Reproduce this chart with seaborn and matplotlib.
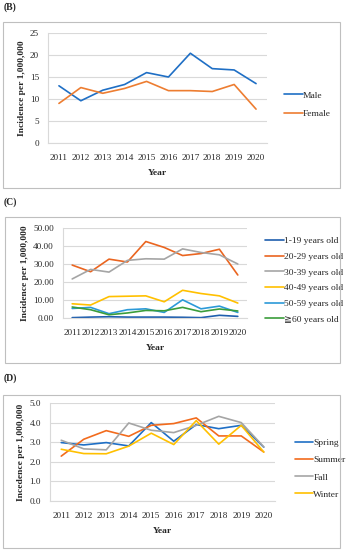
import numpy as np
import pandas as pd
import matplotlib
matplotlib.use("Agg")
import matplotlib.pyplot as plt
import seaborn as sns
from matplotlib.patches import Rectangle

years = [2011, 2012, 2013, 2014, 2015, 2016, 2017, 2018, 2019, 2020]

# (B) by sex
male = [13.0, 9.6, 12.0, 13.3, 16.0, 15.0, 20.4, 16.9, 16.6, 13.5]
female = [9.0, 12.6, 11.3, 12.4, 14.0, 11.9, 11.9, 11.7, 13.3, 7.7]

# (C) by age group
age_1_19 = [0.2, 0.5, 0.7, 0.5, 0.5, 0.5, 0.4, 0.2, 1.5, 0.9]
age_20_29 = [29.4, 25.7, 32.7, 31.1, 42.5, 39.2, 34.7, 35.8, 38.2, 23.9]
age_30_39 = [21.7, 27.0, 25.5, 32.0, 32.9, 32.7, 38.4, 36.4, 35.1, 30.0]
age_40_49 = [7.9, 7.2, 11.9, 12.1, 12.3, 9.0, 15.4, 13.6, 12.3, 8.3]
age_50_59 = [5.3, 5.9, 2.4, 4.6, 5.1, 3.1, 10.1, 5.1, 6.6, 3.1]
age_60_up = [6.1, 4.6, 1.8, 2.8, 4.2, 4.0, 5.9, 3.5, 5.0, 3.9]

# (D) by season
spring = [2.98, 2.86, 2.98, 2.81, 4.0, 3.05, 3.9, 3.69, 3.86, 2.75]
summer = [2.29, 3.15, 3.59, 3.3, 3.86, 3.95, 4.24, 3.32, 3.32, 2.5]
fall = [3.1, 2.66, 2.61, 3.98, 3.61, 3.49, 3.86, 4.32, 4.0, 2.76]
winter = [2.64, 2.42, 2.41, 2.8, 3.46, 2.88, 4.1, 2.9, 3.86, 2.5]

sns.set_style("white")
plt.rcParams["font.family"] = ["Liberation Serif", "DejaVu Serif", "DejaVu Sans"]

W, H = 358, 550
fig = plt.figure(figsize=(W / 100, H / 100), dpi=100)


def frac_rect(x0, y0, x1, y1):
    # pixel box (top-left origin) -> figure fraction [left, bottom, width, height]
    return [x0 / W, 1 - y1 / H, (x1 - x0) / W, (y1 - y0) / H]


def long_form(series):
    rows = []
    for name, vals in series.items():
        for i, v in enumerate(vals):
            rows.append({"idx": i, "value": v, "series": name})
    return pd.DataFrame(rows)


def draw_panel(tag, tag_xy, box, axbox, series, colors, ylim, yticks, yfmt,
               ylabel, leg_anchor, labelspacing):
    fig.patches.append(Rectangle((box[0] / W, 1 - box[3] / H),
                                 (box[2] - box[0]) / W, (box[3] - box[1]) / H,
                                 transform=fig.transFigure, fill=False,
                                 edgecolor="#BFBFBF", linewidth=0.8))
    fig.text(tag_xy[0] / W, 1 - tag_xy[1] / H, tag, fontsize=7,
             fontweight="bold", va="center", ha="left")
    ax = fig.add_axes(frac_rect(*axbox))
    df = long_form(series)
    sns.lineplot(data=df, x="idx", y="value", hue="series",
                 palette=colors, linewidth=1.2, ax=ax, legend=True)
    ax.set_xlim(-0.5, 9.5)
    ax.set_ylim(*ylim)
    ax.set_yticks(yticks)
    ax.set_yticklabels([yfmt.format(t) for t in yticks])
    ax.set_xticks(range(len(years)))
    ax.set_xticklabels([str(y) for y in years])
    ax.tick_params(axis="both", length=0, labelsize=6.6)
    ax.tick_params(axis="x", pad=8)
    ax.tick_params(axis="y", pad=6.5)
    ax.grid(axis="y", color="#D9D9D9", linewidth=0.8)
    ax.set_axisbelow(True)
    for s in ["top", "right"]:
        ax.spines[s].set_visible(False)
    ax.spines["left"].set_color("#D9D9D9")
    ax.spines["bottom"].set_color("#D9D9D9")
    ax.spines["left"].set_linewidth(0.8)
    ax.spines["bottom"].set_linewidth(0.8)
    ax.set_xlabel("Year", fontsize=6.8, fontweight="bold", labelpad=5)
    ax.set_ylabel(ylabel, fontsize=6.8, fontweight="bold", labelpad=3)
    leg = ax.legend(loc="center left", bbox_to_anchor=leg_anchor,
                    frameon=False, fontsize=6.8, handlelength=2.0,
                    handletextpad=0.0, labelspacing=labelspacing,
                    borderaxespad=0)
    for line in leg.get_lines():
        line.set_linewidth(1.2)
    return ax


draw_panel("(B)", (4, 7), (3, 22, 340, 188), (48, 33, 267, 143),
           {"Male": male, "Female": female},
           ["#1F6FC5", "#ED7D31"],
           (0, 25), [0, 5, 10, 15, 20, 25], "{:.0f}",
           "Incidence per 1,000,000", (1.06, 0.35), 1.0)

draw_panel("(C)", (4, 202), (5, 217, 340, 363), (63, 228, 247, 318),
           {"1-19 years old": age_1_19, "20-29 years old": age_20_29,
            "30-39 years old": age_30_39, "40-49 years old": age_40_49,
            "50-59 years old": age_50_59, "\u226760 years old": age_60_up},
           ["#1F5FAE", "#EA6520", "#A5A5A5", "#FFC000", "#2C9AD8", "#3B9D3B"],
           (0, 50), [0, 10, 20, 30, 40, 50], "{:.2f}",
           "Incidence per 1,000,000", (1.08, 0.42), 0.75)

draw_panel("(D)", (4, 378), (3, 395, 340, 548), (50, 403, 275, 501),
           {"Spring": spring, "Summer": summer, "Fall": fall, "Winter": winter},
           ["#1F6FC5", "#F26B1D", "#A5A5A5", "#FFC000"],
           (0, 5), [0, 1, 2, 3, 4, 5], "{:.1f}",
           "Incedence per 1,000,000", (1.07, 0.33), 0.9)

fig.savefig("out.png", dpi=100)
